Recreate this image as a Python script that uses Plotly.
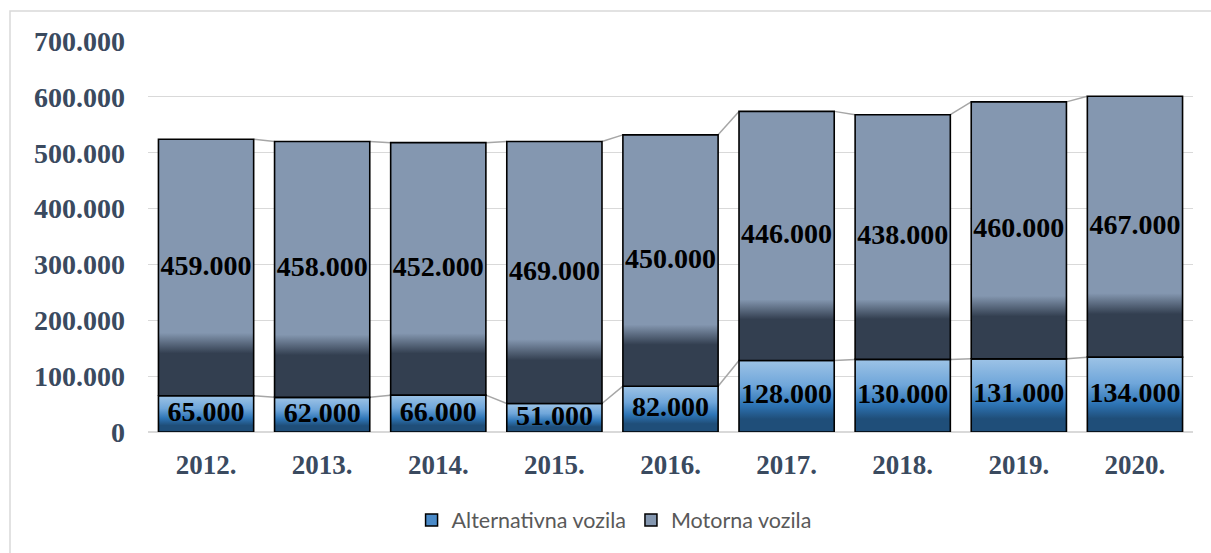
import plotly.graph_objects as go

years = ['2012.', '2013.', '2014.', '2015.', '2016.', '2017.', '2018.', '2019.', '2020.']
alternativna = [65000, 62000, 66000, 51000, 82000, 128000, 130000, 131000, 134000]
motorna = [459000, 458000, 452000, 469000, 450000, 446000, 438000, 460000, 467000]
series_names = ['Alternativna vozila', 'Motorna vozila']

BAR_W = 0.82
SERIF = 'Liberation Serif, Times New Roman, serif'
ALT_SCALE = [[0, '#1F4E79'], [0.18, '#1F4E79'], [0.38, '#2E75B6'], [0.65, '#6FA6DA'], [1, '#9DC3E6']]
MOT_SCALE = [[0, '#333F50'], [0.165, '#333F50'], [0.245, '#8497B0'], [1, '#8497B0']]


def fmt(v):
    return f"{v:,}".replace(',', '.')


fig = go.Figure()

n = len(years)
totals = [a + m for a, m in zip(alternativna, motorna)]

# series lines (Excel-style connectors)
for tops in (alternativna, totals):
    xs, ys = [], []
    for i in range(n - 1):
        xs += [i + BAR_W / 2, i + 1 - BAR_W / 2, None]
        ys += [tops[i], tops[i + 1], None]
    fig.add_trace(go.Scatter(x=xs, y=ys, mode='lines', line=dict(color='#A6A6A6', width=1.5),
                             showlegend=False, hoverinfo='skip'))

# bars drawn as gradient-filled polygons
for i in range(n):
    x0, x1 = i - BAR_W / 2, i + BAR_W / 2
    segs = [(0, alternativna[i], ALT_SCALE), (alternativna[i], totals[i], MOT_SCALE)]
    for base, top, scale in segs:
        fig.add_trace(go.Scatter(
            x=[x0, x1, x1, x0, x0], y=[base, base, top, top, base],
            mode='lines', fill='toself',
            fillgradient=dict(type='vertical', colorscale=scale),
            line=dict(color='black', width=1.6),
            showlegend=False, hoverinfo='skip'))

# data labels
fig.add_trace(go.Scatter(
    x=list(range(n)), y=[a / 2 for a in alternativna], mode='text',
    text=[fmt(v) for v in alternativna],
    textfont=dict(family=SERIF, size=28, color='black', weight='bold'),
    showlegend=False, hoverinfo='skip'))
fig.add_trace(go.Scatter(
    x=list(range(n)), y=[a + m / 2 for a, m in zip(alternativna, motorna)], mode='text',
    text=[fmt(v) for v in motorna],
    textfont=dict(family=SERIF, size=28, color='black', weight='bold'),
    showlegend=False, hoverinfo='skip'))

# legend entries
for name, col in zip(series_names, ['#4A8AC8', '#8497B0']):
    fig.add_trace(go.Scatter(x=[None], y=[None], mode='markers', name=name,
                             marker=dict(symbol='square', size=12, color=col,
                                         line=dict(color='black', width=1.5))))

fig.update_layout(
    width=1211, height=553,
    margin=dict(l=148, r=18, t=41, b=121),
    paper_bgcolor='white', plot_bgcolor='white',
    separators=',.',
    showlegend=True,
    legend=dict(orientation='h', x=0.446, xanchor='center', y=-0.225, yanchor='middle',
                font=dict(family='Lato, Open Sans, sans-serif', size=21.5, color='#595959'),
                itemwidth=30, traceorder='normal'),
    xaxis=dict(range=[-0.5, n - 0.5], tickvals=list(range(n)), ticktext=years,
               showgrid=False, zeroline=False, showline=False, ticks='',
               ticklabelstandoff=14,
               tickfont=dict(family=SERIF, size=27, color='#3A4A5F', weight='bold')),
    yaxis=dict(range=[0, 700000], dtick=100000, tickformat=',d',
               showgrid=True, gridcolor='#D9D9D9', gridwidth=1.2,
               zeroline=True, zerolinecolor='#D9D9D9', zerolinewidth=2,
               showline=False, ticks='', ticklabelstandoff=22,
               tickfont=dict(family=SERIF, size=28, color='#3A4A5F', weight='bold')),
    shapes=[dict(type='rect', xref='paper', yref='paper',
                 x0=(10 - 148) / 1045, x1=1.05, y0=-0.4, y1=(432 - 11) / 391,
                 line=dict(color='#D9D9D9', width=1.5), fillcolor='rgba(0,0,0,0)', layer='below')],
)

fig.write_html('out.html', config={'displayModeBar': False},
               post_script="document.body.style.margin='0px';document.body.style.padding='0px';")
